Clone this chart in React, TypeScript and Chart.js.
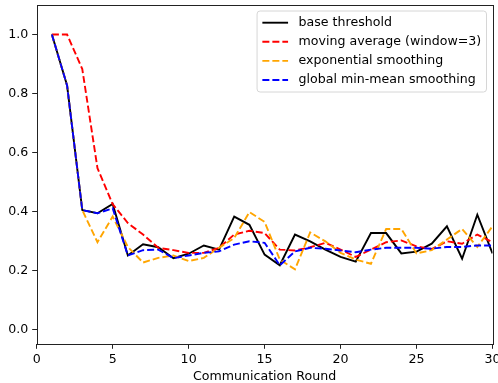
import React, { useEffect, useRef } from "react";
import { Chart, registerables } from "chart.js";

Chart.register(...registerables);

const rounds = [1, 2, 3, 4, 5, 6, 7, 8, 9, 10, 11, 12, 13, 14, 15, 16, 17, 18, 19, 20, 21, 22, 23, 24, 25, 26, 27, 28, 29, 30];

const baseThreshold = [1.0, 0.827, 0.405, 0.394, 0.426, 0.251, 0.289, 0.279, 0.242, 0.257, 0.285, 0.271, 0.383, 0.355, 0.254, 0.218, 0.322, 0.299, 0.271, 0.246, 0.23, 0.327, 0.327, 0.258, 0.264, 0.291, 0.35, 0.24, 0.389, 0.258];

const movingAverage = [1.0, 1.0, 0.883, 0.547, 0.425, 0.361, 0.322, 0.277, 0.269, 0.26, 0.26, 0.277, 0.322, 0.335, 0.327, 0.271, 0.268, 0.279, 0.294, 0.271, 0.246, 0.271, 0.296, 0.302, 0.282, 0.273, 0.299, 0.291, 0.322, 0.296];

const exponentialSmoothing = [1.0, 0.827, 0.405, 0.296, 0.383, 0.28, 0.227, 0.243, 0.251, 0.232, 0.243, 0.277, 0.31, 0.398, 0.365, 0.237, 0.204, 0.329, 0.299, 0.26, 0.237, 0.223, 0.341, 0.341, 0.258, 0.269, 0.305, 0.341, 0.28, 0.35];

const globalMinMean = [1.0, 0.827, 0.405, 0.394, 0.411, 0.251, 0.269, 0.271, 0.242, 0.251, 0.26, 0.265, 0.288, 0.299, 0.294, 0.218, 0.265, 0.277, 0.274, 0.268, 0.262, 0.271, 0.277, 0.277, 0.277, 0.274, 0.28, 0.28, 0.285, 0.285];

const seriesLabels = ["base threshold", "moving average (window=3)", "exponential smoothing", "global min-mean smoothing"];
const seriesColors = ["#000000", "#ff0000", "#ffa500", "#0000ff"];
const yTicks = [0.0, 0.2, 0.4, 0.6, 0.8, 1.0];
const xTicks = [0, 5, 10, 15, 20, 25, 30];
const xTitle = "Communication Round";

const FONT = "DejaVu Sans";
const FS = 12.6;

const frameLegendPlugin = {
  id: "frameLegend",
  afterDraw(chart: any) {
    const ctx = chart.ctx;
    const a = chart.chartArea;
    ctx.save();
    // frame
    ctx.strokeStyle = "#222222";
    ctx.lineWidth = 1;
    ctx.strokeRect(Math.round(a.left) + 0.5, Math.round(a.top) + 0.5, Math.round(a.right - a.left), Math.round(a.bottom - a.top));

    // legend
    ctx.font = `${FS}px "${FONT}"`;
    let maxW = 0;
    chart.data.datasets.forEach((d: any) => {
      maxW = Math.max(maxW, ctx.measureText(d.label).width);
    });
    const pad = 5.3;
    const handle = 25.7;
    const gap = 10.5;
    const rowH = 19.1;
    const boxW = pad + handle + gap + maxW + pad;
    const boxH = 81;
    const boxR = a.right - 6;
    const boxL = boxR - boxW;
    const boxT = a.top + 6;
    const r = 3;
    ctx.beginPath();
    ctx.moveTo(boxL + r, boxT);
    ctx.lineTo(boxL + boxW - r, boxT);
    ctx.arcTo(boxL + boxW, boxT, boxL + boxW, boxT + r, r);
    ctx.lineTo(boxL + boxW, boxT + boxH - r);
    ctx.arcTo(boxL + boxW, boxT + boxH, boxL + boxW - r, boxT + boxH, r);
    ctx.lineTo(boxL + r, boxT + boxH);
    ctx.arcTo(boxL, boxT + boxH, boxL, boxT + boxH - r, r);
    ctx.lineTo(boxL, boxT + r);
    ctx.arcTo(boxL, boxT, boxL + r, boxT, r);
    ctx.closePath();
    ctx.fillStyle = "rgba(255,255,255,0.8)";
    ctx.fill();
    ctx.strokeStyle = "#d6d6d6";
    ctx.lineWidth = 1;
    ctx.stroke();

    chart.data.datasets.forEach((d: any, i: number) => {
      const cy = boxT + 11.7 + i * rowH;
      ctx.beginPath();
      ctx.setLineDash(d.borderDash || []);
      ctx.strokeStyle = d.borderColor;
      ctx.lineWidth = d.borderWidth;
      ctx.moveTo(boxL + pad, cy);
      ctx.lineTo(boxL + pad + handle, cy);
      ctx.stroke();
      ctx.setLineDash([]);
      ctx.fillStyle = "#000000";
      ctx.textBaseline = "middle";
      ctx.textAlign = "left";
      ctx.fillText(d.label, boxL + pad + handle + gap, cy);
    });
    ctx.restore();
  },
};

export default function App() {
  const ref = useRef<HTMLCanvasElement | null>(null);

  useEffect(() => {
    if (!ref.current) return;
    const series = [baseThreshold, movingAverage, exponentialSmoothing, globalMinMean];
    const datasets = series.map((vals, i) => ({
      label: seriesLabels[i],
      data: rounds.map((x, j) => ({ x, y: vals[j] })),
      borderColor: seriesColors[i],
      backgroundColor: seriesColors[i],
      borderWidth: 1.9,
      borderDash: i === 0 ? [] : [7, 3],
      pointRadius: 0,
      tension: 0,
      fill: false,
      order: 4 - i,
    }));

    const chart = new Chart(ref.current, {
      type: "line",
      data: { datasets },
      options: {
        animation: false,
        responsive: false,
        devicePixelRatio: 1,
        layout: { padding: { top: 5, right: 5.5, left: 0, bottom: 0 } },
        plugins: { legend: { display: false }, tooltip: { enabled: false }, title: { display: false } },
        scales: {
          x: {
            type: "linear",
            min: 0,
            max: 30,
            afterFit: (s: any) => {
              s.height = 38.7;
              s.paddingLeft = 0;
              s.paddingRight = 0;
            },
            afterBuildTicks: (s: any) => {
              s.ticks = xTicks.map((v) => ({ value: v }));
            },
            border: { display: false },
            grid: { drawOnChartArea: false, drawTicks: true, tickLength: 4.5, color: "#222222", lineWidth: 1 },
            ticks: {
              autoSkip: false,
              maxRotation: 0,
              padding: 3.5,
              color: "#000000",
              font: { family: FONT, size: FS },
              callback: (v: any) => String(v),
            },
            title: {
              display: true,
              text: xTitle,
              color: "#000000",
              font: { family: FONT, size: FS, lineHeight: 1 },
              padding: { top: 0, bottom: 0 },
            },
          },
          y: {
            type: "linear",
            min: -0.05,
            max: 1.1,
            afterFit: (s: any) => {
              s.width = 36.7;
              s.paddingTop = 0;
              s.paddingBottom = 0;
            },
            afterBuildTicks: (s: any) => {
              s.ticks = yTicks.map((v) => ({ value: v }));
            },
            border: { display: false },
            grid: { drawOnChartArea: false, drawTicks: true, tickLength: 4.5, color: "#222222", lineWidth: 1 },
            ticks: {
              autoSkip: false,
              padding: 4,
              color: "#000000",
              font: { family: FONT, size: FS },
              callback: (v: any) => Number(v).toFixed(1),
            },
          },
        },
      },
      plugins: [frameLegendPlugin],
    } as any);

    return () => chart.destroy();
  }, []);

  return (
    <div style={{ position: "absolute", left: 0, top: 0, width: 498, height: 383, background: "#ffffff" }}>
      <canvas ref={ref} width={498} height={383} style={{ width: 498, height: 383, display: "block" }} />
    </div>
  );
}
